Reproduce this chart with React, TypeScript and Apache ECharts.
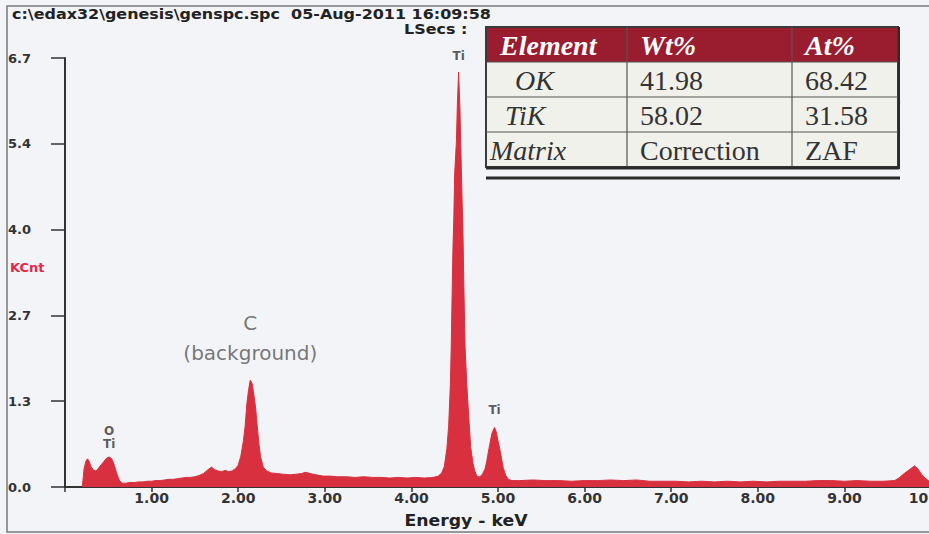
import React, { useEffect, useRef } from "react";
import * as echarts from "echarts";

// ---- spectrum data (energy keV, KCnt) ----
const energies = [
  0.2, 0.22, 0.24, 0.26, 0.28, 0.3, 0.33, 0.36, 0.39, 0.42, 0.45, 0.48, 0.51, 0.54, 0.57, 0.6, 0.63, 0.66,
  0.7, 0.75, 0.8, 0.85, 0.9, 0.95, 1.0, 1.05, 1.1, 1.15, 1.2, 1.25, 1.3, 1.35, 1.4, 1.45, 1.5, 1.55, 1.6,
  1.65, 1.69, 1.73, 1.77, 1.81, 1.85, 1.89, 1.93, 1.97, 2.0, 2.03, 2.06, 2.08, 2.1, 2.12, 2.14, 2.16, 2.18,
  2.2, 2.22, 2.24, 2.26, 2.29, 2.33, 2.38, 2.45, 2.52, 2.6, 2.67, 2.73, 2.78, 2.83, 2.9, 2.98, 3.06, 3.15,
  3.25, 3.35, 3.45, 3.55, 3.65, 3.75, 3.85, 3.95, 4.05, 4.15, 4.25, 4.31, 4.35, 4.38, 4.41, 4.43, 4.45,
  4.46, 4.47, 4.48, 4.49, 4.5, 4.52, 4.53, 4.545, 4.56, 4.57, 4.585, 4.595, 4.605, 4.62, 4.64, 4.66, 4.685,
  4.71, 4.73, 4.76, 4.79, 4.82, 4.85, 4.87, 4.89, 4.91, 4.93, 4.96, 4.98, 5.0, 5.02, 5.04, 5.06, 5.09,
  5.12, 5.16, 5.25, 5.4, 5.55, 5.7, 5.85, 6.0, 6.15, 6.3, 6.45, 6.6, 6.75, 6.9, 7.05, 7.2, 7.35, 7.5, 7.65,
  7.8, 7.95, 8.1, 8.25, 8.4, 8.55, 8.7, 8.85, 9.0, 9.15, 9.3, 9.45, 9.58, 9.63, 9.68, 9.73, 9.78, 9.81,
  9.85, 9.89, 9.93, 9.97, 10.0,
];
const counts = [
  0.0, 0.28, 0.4, 0.44, 0.4, 0.32, 0.26, 0.25, 0.3, 0.35, 0.4, 0.45, 0.47, 0.44, 0.34, 0.2, 0.1, 0.06,
  0.06, 0.07, 0.07, 0.08, 0.08, 0.09, 0.09, 0.1, 0.1, 0.11, 0.12, 0.12, 0.13, 0.14, 0.15, 0.15, 0.16, 0.18, 0.21,
  0.27, 0.31, 0.27, 0.25, 0.24, 0.26, 0.24, 0.25, 0.29, 0.34, 0.48, 0.72, 0.95, 1.3, 1.52, 1.67, 1.62, 1.45,
  1.25, 0.95, 0.66, 0.46, 0.31, 0.25, 0.22, 0.21, 0.2, 0.19, 0.2, 0.21, 0.23, 0.21, 0.19, 0.17, 0.17, 0.16,
  0.16, 0.15, 0.16, 0.15, 0.15, 0.14, 0.15, 0.14, 0.15, 0.14, 0.15, 0.17, 0.22, 0.32, 0.6, 0.95, 1.6,
  2.2, 3.0, 3.74, 4.2, 4.9, 5.4, 5.94, 6.48, 5.94, 5.36, 4.5, 4.0, 3.2, 2.18, 1.6, 1.14, 0.62,
  0.38, 0.26, 0.16, 0.16, 0.2, 0.28, 0.4, 0.56, 0.7, 0.84, 0.93, 0.86, 0.72, 0.6, 0.45, 0.3, 0.18,
  0.12, 0.1, 0.1, 0.11, 0.1, 0.1, 0.09, 0.1, 0.1, 0.11, 0.1, 0.11, 0.09, 0.09, 0.09, 0.08, 0.09, 0.08, 0.09,
  0.08, 0.09, 0.08, 0.09, 0.09, 0.09, 0.1, 0.1, 0.09, 0.1, 0.09, 0.09, 0.1, 0.14, 0.2, 0.25, 0.3, 0.33,
  0.28, 0.2, 0.14, 0.1, 0.09,
];

// ---- peak annotations ----
const peakNames = ["O\nTi", "C\n(background)", "Ti", "Ti"];
const peakEnergies = [0.51, 2.14, 4.545, 4.96];
const peakCounts = [0.47, 1.67, 6.48, 0.93];

// ---- axes ----
const yMax = 6.7;
const yStep = 1.34;
const xMax = 10;
const xStep = 1;

// ---- texts ----
const headerText = "c:\\edax32\\genesis\\genspc.spc  05-Aug-2011 16:09:58";
const lsecsText = "LSecs :";
const yAxisName = "KCnt";
const xAxisName = "Energy - keV";

// ---- quantification table ----
const tableHeader = ["Element", "Wt%", "At%"];
const tableRows = [
  ["OK", "41.98", "68.42"],
  ["TiK", "58.02", "31.58"],
  ["Matrix", "Correction", "ZAF"],
];

const RED = "#d8303e";
const AXIS = "#333";
const SANS = "DejaVu Sans";

function buildTable() {
  const colX = [486, 627, 792, 898];
  const rowY = [27, 62, 97, 132, 167];
  const firstIndent = [14, 29, 19, 4];
  const els: any[] = [];
  els.push({
    type: "rect",
    shape: { x: colX[0], y: rowY[0], width: colX[3] - colX[0], height: rowY[4] - rowY[0] },
    style: { fill: "#f1f1eb", stroke: "#3a3a3a", lineWidth: 2 },
  });
  els.push({
    type: "rect",
    shape: { x: colX[0] + 1, y: rowY[0] + 1, width: colX[3] - colX[0] - 2, height: rowY[1] - rowY[0] - 1 },
    style: { fill: "#9a1c2f" },
  });
  for (let r = 1; r < 4; r++) {
    els.push({
      type: "line",
      shape: { x1: colX[0], y1: rowY[r], x2: colX[3], y2: rowY[r] },
      style: { stroke: "#555", lineWidth: 1.2 },
    });
  }
  for (let c = 1; c < 3; c++) {
    els.push({
      type: "line",
      shape: { x1: colX[c], y1: rowY[0], x2: colX[c], y2: rowY[4] },
      style: { stroke: "#555", lineWidth: 1.2 },
    });
  }
  els.push({
    type: "line",
    shape: { x1: colX[0], y1: rowY[4] + 1, x2: colX[3] + 1, y2: rowY[4] + 1 },
    style: { stroke: "#2a2a2a", lineWidth: 3 },
  });
  els.push({
    type: "line",
    shape: { x1: colX[3] + 1, y1: rowY[0], x2: colX[3] + 1, y2: rowY[4] + 2 },
    style: { stroke: "#2a2a2a", lineWidth: 2 },
  });
  els.push({
    type: "line",
    shape: { x1: colX[0], y1: 178, x2: colX[3] + 2, y2: 178 },
    style: { stroke: "#2a2a2a", lineWidth: 3 },
  });
  const allRows = [tableHeader, ...tableRows];
  allRows.forEach((row, r) => {
    row.forEach((cell, c) => {
      const isHead = r === 0;
      const italic = isHead || c === 0;
      const x = c === 0 ? colX[0] + firstIndent[r] : colX[c] + 13;
      els.push({
        type: "text",
        x,
        y: (rowY[r] + rowY[r + 1]) / 2 + 1,
        style: {
          text: cell,
          font: `${italic ? "italic " : ""}${isHead ? "bold " : ""}28px "Liberation Serif", serif`,
          fill: isHead ? "#ffffff" : "#333333",
          verticalAlign: "middle",
          align: "left",
        },
      });
    });
  });
  return els;
}

export default function App() {
  const ref = useRef<HTMLDivElement>(null);
  useEffect(() => {
    document.body.style.margin = "0";
    const chart = echarts.init(ref.current!, null, { renderer: "svg" });
    const spectrum = energies.map((e, i) => [e, counts[i]]);
    const labelStyles = [
      { bold: true, size: 12, color: "#333", lineHeight: 13, distance: 6 },
      { bold: false, size: 20, color: "#555", lineHeight: 30, distance: 12 },
      { bold: true, size: 12, color: "#333", lineHeight: 13, distance: 9 },
      { bold: true, size: 12, color: "#333", lineHeight: 13, distance: 10 },
    ];
    const peakData = peakNames.map((n, i) => {
      const s = labelStyles[i];
      return {
        value: [peakEnergies[i], peakCounts[i]],
        label: {
          show: true,
          position: "top",
          formatter: n,
          distance: s.distance,
          color: s.color,
          fontFamily: SANS,
          fontWeight: s.bold ? "bold" : "normal",
          fontSize: s.size,
          lineHeight: s.lineHeight,
          align: "center",
        },
      };
    });
    chart.setOption({
      animation: false,
      backgroundColor: "#f3f4f7",
      textStyle: { fontFamily: SANS },
      grid: { left: 65, right: -2, top: 58, bottom: 47, containLabel: false, outerBoundsMode: "none" },
      xAxis: {
        type: "value",
        min: 0,
        max: xMax,
        interval: xStep,
        axisLine: { show: true, lineStyle: { color: AXIS, width: 2 } },
        axisTick: { show: true, length: 5, lineStyle: { color: AXIS, width: 1.5 } },
        splitLine: { show: false },
        axisLabel: {
          margin: 4,
          color: "#333",
          fontWeight: "bold",
          fontSize: 14,
          fontFamily: SANS,
          showMinLabel: true,
          showMaxLabel: true,
          hideOverlap: false,
          formatter: (v: number) => (v === 0 ? "" : v.toFixed(2)),
        },
      },
      yAxis: {
        type: "value",
        min: 0,
        max: yMax,
        interval: yStep,
        offset: 3,
        axisLine: { show: true, lineStyle: { color: AXIS, width: 2 } },
        axisTick: { show: true, length: 14, lineStyle: { color: AXIS, width: 1.5 } },
        splitLine: { show: false },
        axisLabel: {
          margin: 54,
          align: "left",
          color: "#333",
          fontWeight: "bold",
          fontSize: 13,
          fontFamily: SANS,
          formatter: (v: number) => v.toFixed(1),
        },
      },
      series: [
        {
          type: "line",
          data: spectrum,
          symbol: "none",
          smooth: false,
          lineStyle: { color: RED, width: 1 },
          areaStyle: { color: RED, opacity: 1 },
          silent: true,
          z: 2,
        },
        {
          type: "scatter",
          data: peakData,
          symbolSize: 1,
          itemStyle: { color: "rgba(0,0,0,0)" },
          silent: true,
          z: 3,
        },
      ],
      graphic: [
        {
          type: "rect",
          shape: { x: 7, y: 6, width: 930, height: 526 },
          style: { fill: "none", stroke: "#7a7a7a", lineWidth: 1.5 },
          z: 0,
        },
        {
          type: "text",
          x: 12,
          y: 14,
          scaleX: 1.14,
          style: { text: headerText, font: `bold 14px "${SANS}"`, fill: "#222", verticalAlign: "middle" },
        },
        {
          type: "text",
          x: 404,
          y: 29,
          scaleX: 1.14,
          style: { text: lsecsText, font: `bold 14px "${SANS}"`, fill: "#222", verticalAlign: "middle" },
        },
        {
          type: "text",
          x: 10,
          y: 267,
          style: { text: yAxisName, font: `bold 13px "${SANS}"`, fill: "#e0284a", verticalAlign: "middle" },
        },
        {
          type: "text",
          x: 466,
          y: 521,
          scaleX: 1.15,
          style: { text: xAxisName, font: `bold 15px "${SANS}"`, fill: "#222", align: "center", verticalAlign: "middle" },
        },
        ...buildTable(),
      ],
    });
    return () => chart.dispose();
  }, []);
  return <div ref={ref} style={{ position: "fixed", left: 0, top: 0, width: 929, height: 534 }} />;
}
